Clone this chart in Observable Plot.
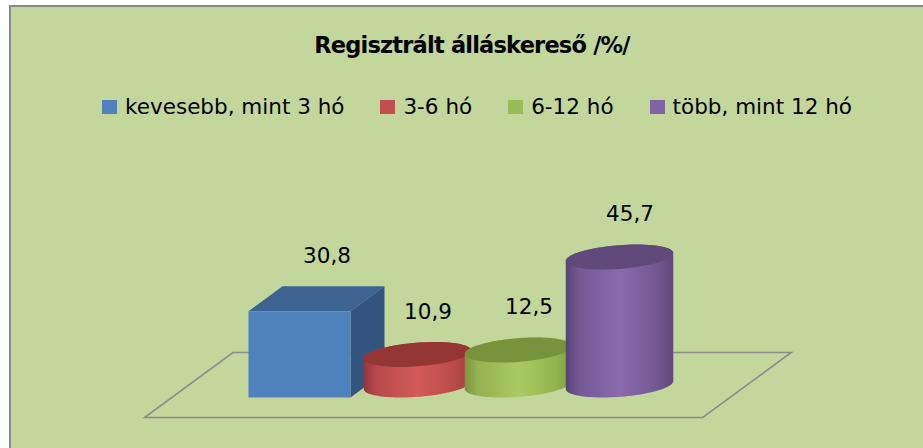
<!DOCTYPE html>
<html>
<head>
<meta charset="utf-8">
<script src="https://cdn.jsdelivr.net/npm/d3@7"></script>
<script src="https://cdn.jsdelivr.net/npm/@observablehq/plot@0.6"></script>
<style>
  html, body { margin: 0; padding: 0; background: #ffffff; width: 923px; height: 448px; overflow: hidden; }
  body { position: relative; font-family: "DejaVu Sans", sans-serif; }
  #frame { position: absolute; left: 9px; top: 5px; width: 940px; height: 460px; background: #C3D69B;
           border-left: 2px solid #8a8a8a; border-top: 2px solid #8a8a8a; }
  #title { position: absolute; left: 0; top: 34px; width: 944px; text-align: center; font-size: 22.5px;
           line-height: 22.5px; font-weight: bold; color: #000; letter-spacing: -0.8px; }
  #legend { position: absolute; left: 0; top: 96px; width: 954px; display: flex; justify-content: center;
            gap: 36px; font-size: 21.5px; line-height: 21.5px; color: #000; }
  .item { display: flex; align-items: center; white-space: nowrap; }
  .sw { width: 15px; height: 14px; margin-right: 8px; margin-top: 1px; }
  #chart { position: absolute; left: 0; top: 130px; }
</style>
</head>
<body>
<div id="frame"></div>
<div id="title"></div>
<div id="legend"></div>
<div id="chart"></div>
<script>
// ---- data ----
const categories = ["kevesebb, mint 3 hó", "3-6 hó", "6-12 hó", "több, mint 12 hó"];
const values = [30.8, 10.9, 12.5, 45.7];
const shapes = ["box", "cylinder", "cylinder", "cylinder"];
const chartTitle = "Regisztrált álláskereső /%/";

// ---- styles ----
const palette = {
  "kevesebb, mint 3 hó": {front: "#4F81BD", top: "#3D6393", side: "#33557F"},
  "3-6 hó":            {top: "#943634", edge: "#93363A", mid: "#D25B58", edge2: "#A03E3C"},
  "6-12 hó":           {top: "#77933C", edge: "#7A953C", mid: "#AACA62", edge2: "#80A040"},
  "több, mint 12 hó":  {top: "#604A7B", edge: "#574372", mid: "#8A6BAE", edge2: "#5E4979"}
};
const legendColors = ["#4F81BD", "#C0504D", "#9BBB59", "#8064A2"];
const halfDepth = [17, -12.5];   // projection of half the bar depth
const floorDepthFactor = 2.6;    // floor is deeper than the bars
const floorOverhang = 0.75;      // in band steps

const data = categories.map((c, i) => ({category: c, value: values[i], shape: shapes[i]}));

// ---- title & legend ----
document.getElementById("title").textContent = chartTitle;
const legend = d3.select("#legend");
categories.forEach((c, i) => {
  const it = legend.append("div").attr("class", "item");
  it.append("div").attr("class", "sw").style("background", legendColors[i]);
  it.append("span").text(c);
});

// ---- 3D bars render ----
function render3d(index, scales, vals, dimensions) {
  const x = scales.x, y = scales.y;
  const step = x.step ? x.step() : x.bandwidth();
  const w = x.bandwidth() + 1;
  const [hx, hy] = halfDepth;
  const g = d3.create("svg:g");
  const defs = g.append("defs");

  // floor
  const y0 = y(0);
  const r = x.range();
  const fl = r[0] - floorOverhang * step, fr = r[1] + floorOverhang * step;
  const fx = hx * floorDepthFactor, fy = hy * floorDepthFactor;
  g.append("path")
    .attr("d", d3.line()([[fl - fx, y0 - fy], [fr - fx, y0 - fy], [fr + fx, y0 + fy], [fl + fx, y0 + fy]]) + "Z")
    .attr("fill", "none").attr("stroke", "#8c8c8c").attr("stroke-width", 1.6).attr("stroke-linejoin", "miter");

  const tr = Math.atan2(hx, w / 2);
  const ell = (cx, cy, t0, t1, n = 60) => d3.range(n + 1).map(k => {
    const t = t0 + (t1 - t0) * k / n;
    return [cx + (w / 2) * Math.cos(t) + hx * Math.sin(t), cy + hy * Math.sin(t)];
  });

  for (const i of index) {
    const d = data[i];
    const cx = x(d.category) + x.bandwidth() / 2;
    const yb = y(0), yt = y(d.value);
    const p = palette[d.category];
    if (d.shape === "box") {
      const L = cx - w / 2, R = cx + w / 2;
      g.append("path").attr("d", d3.line()([[L - hx, yt - hy], [R - hx, yt - hy], [R + hx, yt + hy], [L + hx, yt + hy]]) + "Z")
        .attr("fill", p.top);
      g.append("path").attr("d", d3.line()([[R - hx, yt - hy], [R + hx, yt + hy], [R + hx, yb + hy], [R - hx, yb - hy]]) + "Z")
        .attr("fill", p.side);
      g.append("rect").attr("x", L - hx).attr("y", yt - hy).attr("width", w).attr("height", yb - yt)
        .attr("fill", p.front);
    } else {
      const id = "grad" + i;
      const gr = defs.append("linearGradient").attr("id", id).attr("x1", 0).attr("x2", 1).attr("y1", 0).attr("y2", 0);
      gr.append("stop").attr("offset", 0).attr("stop-color", p.edge);
      gr.append("stop").attr("offset", 0.12).attr("stop-color", d3.interpolateRgb(p.edge, p.mid)(0.55));
      gr.append("stop").attr("offset", 0.5).attr("stop-color", p.mid);
      gr.append("stop").attr("offset", 0.85).attr("stop-color", d3.interpolateRgb(p.mid, p.edge2)(0.55));
      gr.append("stop").attr("offset", 1).attr("stop-color", p.edge2);
      const body = [
        ...ell(cx, yb, tr + Math.PI, tr + 2 * Math.PI),
        ...ell(cx, yt, tr, tr + Math.PI)
      ];
      g.append("path").attr("d", d3.line()(body) + "Z").attr("fill", `url(#${id})`);
      g.append("path").attr("d", d3.line()(ell(cx, yt, 0, 2 * Math.PI, 90)) + "Z").attr("fill", p.top);
    }
  }
  return g.node();
}

const fmt = v => String(v).replace(".", ",");

const plot = Plot.plot({
  width: 923,
  height: 318,
  marginLeft: 264.5,
  marginRight: 251.8,
  marginTop: 115,
  marginBottom: 63,
  x: {domain: categories, padding: 0, axis: null},
  y: {domain: [0, 50], axis: null},
  style: {background: "transparent", fontFamily: "DejaVu Sans, sans-serif", overflow: "visible"},
  marks: [
    Plot.barY(data, {x: "category", y: "value", render: render3d}),
    Plot.text(data, {x: "category", y: "value", text: d => fmt(d.value), dx: 10, dy: -43,
                     fontSize: 21.5, fill: "#000"})
  ]
});
document.getElementById("chart").appendChild(plot);
</script>
</body>
</html>
